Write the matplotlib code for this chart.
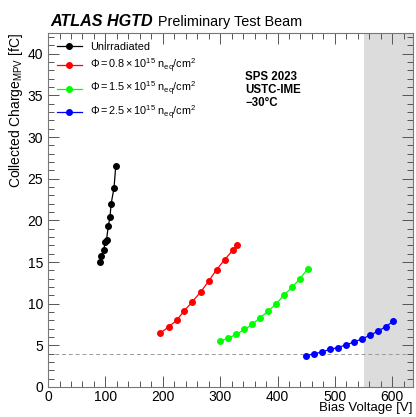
import matplotlib
matplotlib.use("Agg")
import matplotlib.pyplot as plt
from matplotlib.ticker import MultipleLocator

plt.rcParams['font.family'] = ['Liberation Sans', 'DejaVu Sans']
plt.rcParams['mathtext.fontset'] = 'custom'
plt.rcParams['mathtext.rm'] = 'Liberation Sans'
plt.rcParams['mathtext.it'] = 'Liberation Sans:italic'

# data
v_unirr = [90, 93, 97, 100, 102, 105, 108, 110, 115, 118]
q_unirr = [15.0, 15.7, 16.5, 17.4, 17.7, 19.3, 20.4, 22.0, 23.9, 26.5]

v_08 = [196, 210, 224, 237, 251, 266, 280, 294, 308, 322, 330]
q_08 = [6.5, 7.2, 8.0, 9.1, 10.2, 11.4, 12.7, 14.1, 15.3, 16.4, 17.0]

v_15 = [300, 313, 328, 342, 356, 369, 384, 398, 411, 426, 439, 453]
q_15 = [5.5, 5.85, 6.3, 6.9, 7.5, 8.3, 9.1, 10.0, 11.0, 12.0, 13.0, 14.2]

v_25 = [450, 463, 477, 491, 505, 519, 533, 547, 561, 575, 589, 602]
q_25 = [3.77, 3.96, 4.2, 4.5, 4.73, 5.04, 5.4, 5.76, 6.2, 6.7, 7.25, 7.9]

series = [
    (v_unirr, q_unirr, 'black', 'Unirradiated'),
    (v_08, q_08, 'red', r'$\Phi = 0.8 \times 10^{15}\ \mathrm{n_{eq}/cm^{2}}$'),
    (v_15, q_15, '#00ff00', r'$\Phi = 1.5 \times 10^{15}\ \mathrm{n_{eq}/cm^{2}}$'),
    (v_25, q_25, 'blue', r'$\Phi = 2.5 \times 10^{15}\ \mathrm{n_{eq}/cm^{2}}$'),
]

fig = plt.figure(figsize=(4.16, 4.17), dpi=100)
ax = fig.add_axes([0.1155, 0.072, 0.877, 0.849])

ax.axvspan(550, 640, color='#dcdcdc', zorder=0, lw=0)
ax.axhline(4, color='#999999', ls=(0, (4, 3)), lw=0.7, zorder=1)

for v, q, c, lab in series:
    ax.plot(v, q, '-o', color=c, ms=4, lw=0.9, label=lab, zorder=3)

ax.set_xlim(0, 636)
ax.set_ylim(0, 42.5)
ax.xaxis.set_major_locator(MultipleLocator(100))
ax.xaxis.set_minor_locator(MultipleLocator(20))
ax.yaxis.set_major_locator(MultipleLocator(5))
ax.yaxis.set_minor_locator(MultipleLocator(1))
ax.tick_params(which='both', direction='in', top=True, right=True,
               color='#555555', labelsize=10)
ax.tick_params(which='major', length=8, width=0.7)
ax.tick_params(which='minor', length=4, width=0.7)
ax.tick_params(axis='x', pad=2)
for s in ax.spines.values():
    s.set_color('#777777')
    s.set_linewidth(0.8)

ax.set_xlabel('Bias Voltage [V]', fontsize=9.5, loc='right', labelpad=-1)
ax.set_ylabel(r'Collected Charge$_{\mathrm{MPV}}$ [fC]', fontsize=10,
              loc='top', labelpad=2)

leg = ax.legend(loc='upper left', bbox_to_anchor=(0.0, 1.0), frameon=False,
                fontsize=7.8, handlelength=2.3, labelspacing=0.48,
                borderaxespad=0.4)

ax.text(0.54, 0.892, 'SPS 2023\nUSTC-IME\n\u221230\u00b0C', transform=ax.transAxes,
        fontsize=8.3, fontweight='bold', va='top', ha='left', linespacing=1.1)

fig.text(0.12, 0.937, 'ATLAS HGTD', fontsize=11.6, fontweight='bold',
         fontstyle='italic', va='baseline', ha='left')
fig.text(0.38, 0.937, 'Preliminary Test Beam', fontsize=10.4,
         va='baseline', ha='left')

fig.savefig('out.png', dpi=100)
